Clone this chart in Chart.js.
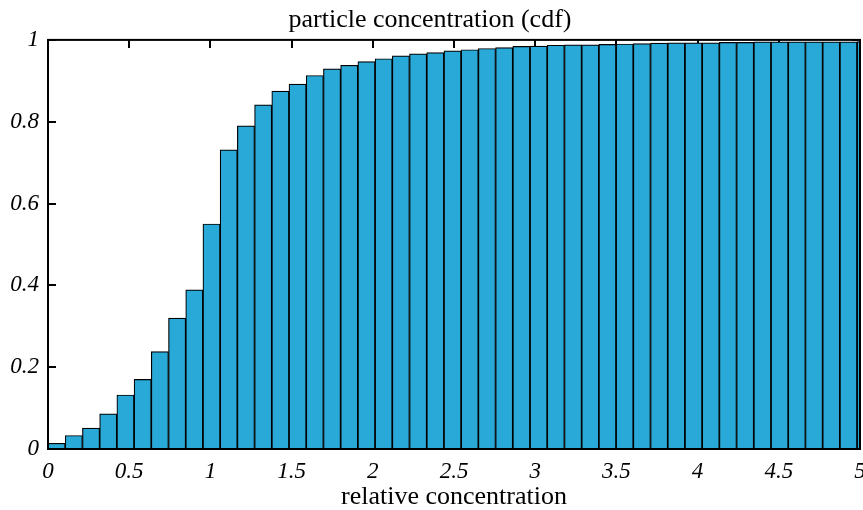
<!DOCTYPE html>
<html>
<head>
<meta charset="utf-8">
<script src="https://cdn.jsdelivr.net/npm/chart.js@4.4.0/dist/chart.umd.min.js"></script>
<style>
    html, body { margin: 0; padding: 0; background: #fff; }
    #wrap { width: 863px; height: 510px; }
</style>
</head>
<body>
<div id="wrap"><canvas id="cdfChart" width="863" height="510"></canvas></div>
<script>
// histogram bins (centres), bin width ~0.106
var binWidth = 0.106;
var binCenters = [
    0.053, 0.159, 0.265, 0.371, 0.477, 0.583, 0.689, 0.795, 0.901, 1.007,
    1.113, 1.219, 1.325, 1.431, 1.537, 1.643, 1.749, 1.855, 1.961, 2.067,
    2.173, 2.279, 2.385, 2.491, 2.597, 2.703, 2.809, 2.915, 3.021, 3.127,
    3.233, 3.339, 3.445, 3.551, 3.657, 3.763, 3.869, 3.975, 4.081, 4.187,
    4.293, 4.399, 4.505, 4.611, 4.717, 4.823, 4.929, 5.035
];
var cdfValues = [
    0.014, 0.033, 0.051, 0.086, 0.132, 0.170, 0.238, 0.320, 0.389, 0.550,
    0.731, 0.790, 0.841, 0.875, 0.892, 0.913, 0.929, 0.938, 0.947, 0.954,
    0.961, 0.966, 0.969, 0.973, 0.976, 0.979, 0.981, 0.984, 0.985, 0.987,
    0.988, 0.988, 0.989, 0.990, 0.991, 0.992, 0.993, 0.993, 0.993, 0.994,
    0.994, 0.995, 0.995, 0.995, 0.995, 0.995, 0.995, 0.996
];
var xTicks = [0, 0.5, 1, 1.5, 2, 2.5, 3, 3.5, 4, 4.5, 5];
var yTicks = [0, 0.2, 0.4, 0.6, 0.8, 1];

var serif = '"Liberation Serif", "Times New Roman", serif';

// "1" instead of "1.0"
function tickText(value) {
    return String(+value.toFixed(1));
}

// inward ticks on all four sides, drawn under the bars
var frameTicks = {
    id: 'frameTicks',
    beforeDatasetsDraw: function (chart) {
        var c = chart.ctx, a = chart.chartArea;
        var xs = chart.scales.x, ys = chart.scales.y;
        c.save();
        c.strokeStyle = '#000';
        c.lineWidth = 2;
        c.beginPath();
        xTicks.forEach(function (v) {
            var px = Math.round(xs.getPixelForValue(v));
            c.moveTo(px, a.top); c.lineTo(px, a.top + 8);
            c.moveTo(px, a.bottom); c.lineTo(px, a.bottom - 8);
        });
        yTicks.forEach(function (v) {
            var py = Math.round(ys.getPixelForValue(v));
            c.moveTo(a.left, py); c.lineTo(a.left + 8, py);
            c.moveTo(a.right, py); c.lineTo(a.right - 8, py);
        });
        c.stroke();
        c.restore();
    },
    afterDatasetsDraw: function (chart) {
        var c = chart.ctx, a = chart.chartArea;
        c.save();
        c.strokeStyle = '#000';
        c.lineWidth = 2;
        c.strokeRect(a.left, a.top, a.right - a.left, a.bottom - a.top);
        c.restore();
    }
};

var points = binCenters.map(function (x, i) {
    return { x: x, y: cdfValues[i] };
});

var ctx = document.getElementById('cdfChart');
var cdfChart = new Chart(ctx, {
    type: 'bar',
    data: {
        datasets: [{
            label: 'cdf',
            data: points,
            backgroundColor: '#29a9d8',
            borderColor: '#000',
            borderWidth: 1.2,
            borderSkipped: false,
            barPercentage: 1,
            categoryPercentage: 1
        }]
    },
    options: {
        responsive: false,
        animation: false,
        layout: { padding: { left: 0, right: 3, top: 0, bottom: 0 } },
        plugins: {
            legend: { display: false },
            tooltip: { enabled: false },
            title: {
                display: true,
                text: 'particle concentration (cdf)',
                color: '#000',
                font: { family: serif, size: 26, weight: 'normal', lineHeight: 1.15 },
                padding: { top: 5, bottom: 5 }
            }
        },
        scales: {
            x: {
                type: 'linear',
                min: 0,
                max: 5,
                offset: false,
                grid: { display: false, drawTicks: false },
                border: { display: false },
                ticks: {
                    stepSize: 0.5,
                    color: '#000',
                    padding: 9,
                    maxRotation: 0,
                    callback: tickText,
                    font: { family: serif, size: 23, style: 'italic' }
                },
                title: {
                    display: true,
                    text: 'relative concentration',
                    color: '#000',
                    font: { family: serif, size: 26, lineHeight: 1 },
                    padding: { top: 0, bottom: 0 }
                },
                afterFit: function (scale) {
                    scale.height = 61;
                    scale.paddingLeft = 0;
                    scale.paddingRight = 0;
                }
            },
            y: {
                min: 0,
                max: 1,
                grid: { display: false, drawTicks: false },
                border: { display: false },
                ticks: {
                    stepSize: 0.2,
                    color: '#000',
                    padding: 9,
                    callback: tickText,
                    font: { family: serif, size: 23, style: 'italic' }
                },
                afterFit: function (scale) {
                    scale.width = 48;
                    scale.paddingTop = 0;
                    scale.paddingBottom = 0;
                }
            }
        }
    },
    plugins: [frameTicks]
});
</script>
</body>
</html>
